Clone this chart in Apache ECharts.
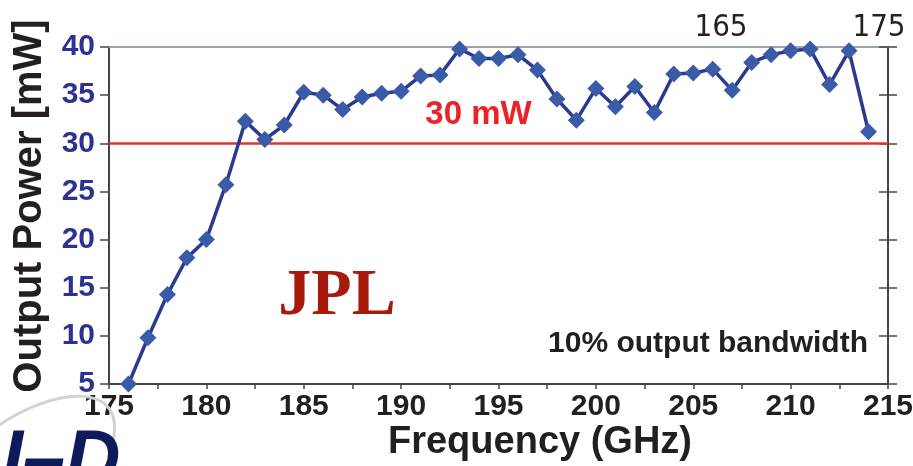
<!DOCTYPE html>
<html>
<head>
<meta charset="utf-8">
<title>Output Power vs Frequency</title>
<script src="https://cdn.jsdelivr.net/npm/echarts@6/dist/echarts.min.js"></script>
<style>
  html, body { margin: 0; padding: 0; background: #ffffff; }
  #chart { width: 913px; height: 466px; }
</style>
</head>
<body>
<div id="chart"></div>
<script>
// Measured output power of the frequency multiplier, one point per GHz
const freqGHz = [176, 177, 178, 179, 180, 181, 182, 183, 184, 185,
                 186, 187, 188, 189, 190, 191, 192, 193, 194, 195,
                 196, 197, 198, 199, 200, 201, 202, 203, 204, 205,
                 206, 207, 208, 209, 210, 211, 212, 213, 214];
const powerMW = [5.0, 9.8, 14.3, 18.1, 20.0, 25.7, 32.3, 30.4, 31.9, 35.3,
                 35.0, 33.5, 34.8, 35.2, 35.4, 37.0, 37.1, 39.8, 38.8, 38.8,
                 39.2, 37.6, 34.6, 32.4, 35.7, 33.8, 35.9, 33.2, 37.2, 37.3,
                 37.7, 35.5, 38.4, 39.2, 39.6, 39.8, 36.1, 39.6, 31.2];

// Reference level
const thresholdMW = 30;
const thresholdLabel = '30 mW';

// Axis ranges
const freqMin = 175, freqMax = 215, freqStep = 5;
const powerMin = 5, powerMax = 40, powerStep = 5;

// Annotations
const xTitle = 'Frequency (GHz)';
const yTitle = 'Output Power [mW]';
const noteText = '10% output bandwidth';
const labText = 'JPL';
const topMarks = ['165', '175'];
const logoText = 'I\u2013D';

const sans = '"Liberation Sans", Arial, sans-serif';
const axisDark = '#444444';

const chart = echarts.init(document.getElementById('chart'), null, { renderer: 'canvas' });

const points = freqGHz.map((f, i) => [f, powerMW[i]]);

const option = {
  backgroundColor: '#ffffff',
  animation: false,
  grid: { left: 109, right: 25, top: 47, bottom: 82, outerBoundsMode: 'none' },
  xAxis: [
    {
      type: 'value', position: 'bottom',
      min: freqMin, max: freqMax, interval: freqStep,
      axisLine: { show: true, lineStyle: { color: axisDark, width: 2 } },
      axisTick: { show: true, length: 5, lineStyle: { color: axisDark, width: 1.5 } },
      minorTick: { show: true, splitNumber: 2, length: 5, lineStyle: { color: axisDark, width: 1.5 } },
      splitLine: { show: false },
      axisLabel: { color: '#231f20', fontFamily: sans, fontWeight: 'bold', fontSize: 30, margin: 8 },
      name: xTitle, nameLocation: 'middle', nameGap: 40, nameMoveOverlap: false,
      nameTextStyle: { color: '#231f20', fontFamily: sans, fontWeight: 'bold', fontSize: 38, padding: [0, 0, 0, 83] }
    },
    {
      type: 'value', position: 'top',
      min: freqMin, max: freqMax, interval: freqStep,
      axisLine: { show: true, lineStyle: { color: '#9aa3ab', width: 2 } },
      axisTick: { show: false }, axisLabel: { show: false }, splitLine: { show: false }
    }
  ],
  yAxis: [
    {
      type: 'value', position: 'left',
      min: powerMin, max: powerMax, interval: powerStep,
      axisLine: { show: true, lineStyle: { color: axisDark, width: 2 } },
      axisTick: { show: true, length: 9, lineStyle: { color: axisDark, width: 1.5 } },
      splitLine: { show: false },
      axisLabel: { color: '#2e3192', fontFamily: sans, fontWeight: 'bold', fontSize: 30, margin: 14 },
      name: yTitle, nameLocation: 'middle', nameRotate: 90, nameGap: 59, nameMoveOverlap: false,
      nameTextStyle: { color: '#231f20', fontFamily: sans, fontWeight: 'bold', fontSize: 40, padding: [0, 0, 0, 19] }
    },
    {
      type: 'value', position: 'right',
      min: powerMin, max: powerMax, interval: powerStep,
      axisLine: { show: true, lineStyle: { color: axisDark, width: 2 } },
      axisTick: { show: true, length: 9, lineStyle: { color: axisDark, width: 1.5 } },
      axisLabel: { show: false }, splitLine: { show: false }
    },
    {
      type: 'value', position: 'right',
      min: powerMin, max: powerMax, interval: powerStep,
      axisLine: { show: false },
      axisTick: { show: true, inside: true, length: 9, lineStyle: { color: axisDark, width: 1.5 } },
      axisLabel: { show: false }, splitLine: { show: false }
    }
  ],
  series: [
    {
      type: 'line',
      xAxisIndex: 0, yAxisIndex: 0,
      data: points,
      clip: false,
      symbol: 'diamond',
      symbolSize: 17,
      itemStyle: { color: '#3a5ba8' },
      lineStyle: { color: '#2b3990', width: 3.5 },
      emphasis: { disabled: true },
      z: 5,
      markLine: {
        silent: true,
        symbol: 'none',
        lineStyle: { color: '#e2332f', width: 2.5, type: 'solid' },
        label: {
          show: true, position: 'middle', formatter: thresholdLabel,
          color: '#ec2227', fontFamily: sans, fontWeight: 'bold', fontSize: 33,
          distance: 12, padding: [0, 40, 0, 0]
        },
        data: [{ yAxis: thresholdMW }],
        z: 3
      }
    }
  ],
  graphic: [
    {
      type: 'text', x: 868, y: 344,
      style: { text: noteText, fill: '#231f20', font: 'bold 30px ' + sans, align: 'right', verticalAlign: 'middle' }
    },
    {
      type: 'text', x: 337, y: 297,
      style: { text: labText, fill: '#a6190b', font: 'bold 66px "Liberation Serif", "Times New Roman", serif', align: 'center', verticalAlign: 'middle' }
    },
    {
      type: 'text', x: 721, y: 28,
      style: { text: topMarks[0], fill: '#222222', font: '31px "DejaVu Sans Condensed", "DejaVu Sans", sans-serif', align: 'center', verticalAlign: 'middle' }
    },
    {
      type: 'text', x: 879, y: 28,
      style: { text: topMarks[1], fill: '#222222', font: '31px "DejaVu Sans Condensed", "DejaVu Sans", sans-serif', align: 'center', verticalAlign: 'middle' }
    },
    {
      type: 'bezierCurve', z: 1,
      shape: { x1: -5, y1: 428, cpx1: 50, cpy1: 388, cpx2: 130, cpy2: 378, x2: 112, y2: 445 },
      style: { stroke: '#d2d2d2', lineWidth: 3, fill: null }
    },
    {
      type: 'text', x: 2, y: 424, z: 2,
      style: { text: logoText, fill: '#0e1a5c', font: 'italic bold 76px ' + sans, align: 'left', verticalAlign: 'top' }
    }
  ]
};

chart.setOption(option);
</script>
</body>
</html>
